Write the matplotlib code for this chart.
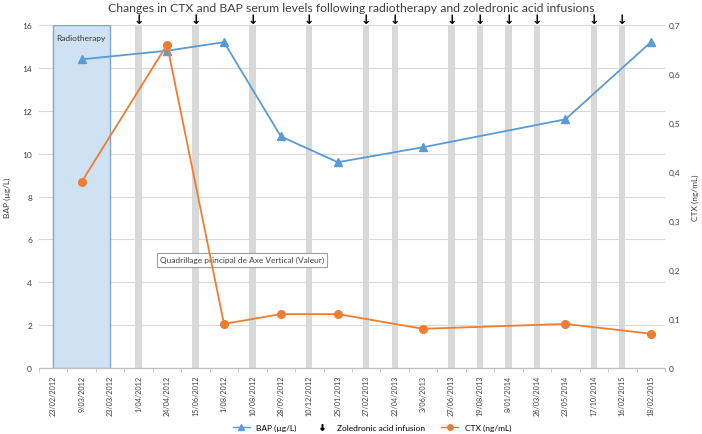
import matplotlib.pyplot as plt
from matplotlib.patches import Rectangle
from matplotlib.lines import Line2D

plt.rcParams['font.family'] = ['Lato', 'DejaVu Sans']

dates = ["23/02/2012", "9/03/2012", "23/03/2012", "1/04/2012", "24/04/2012",
         "15/06/2012", "1/08/2012", "10/08/2012", "28/09/2012", "10/12/2012",
         "25/01/2013", "27/02/2013", "22/04/2013", "3/06/2013", "27/06/2013",
         "19/08/2013", "8/01/2014", "26/03/2014", "23/05/2014", "17/10/2014",
         "16/02/2015", "18/02/2015"]

# measurements (category index -> value)
bap_idx = [1, 4, 6, 8, 10, 13, 18, 21]
bap_val = [14.4, 14.8, 15.2, 10.8, 9.6, 10.3, 11.6, 15.2]

ctx_idx = [1, 4, 6, 8, 10, 13, 18, 21]
ctx_val = [0.38, 0.66, 0.09, 0.11, 0.11, 0.08, 0.09, 0.07]

infusion_idx = [3, 5, 7, 9, 11, 12, 14, 15, 16, 17, 19, 20]
infusion_top = 16

radio_start, radio_end = 0, 2

blue = "#5b9bd5"
orange = "#ed7d31"

fig = plt.figure(figsize=(7.02, 4.35), dpi=100)
ax = fig.add_axes([0.0556, 0.1517, 0.8917, 0.7885])
ax2 = ax.twinx()

ax.set_xlim(-0.5, len(dates) - 0.5)
ax.set_ylim(0, 16)
ax2.set_ylim(0, 0.7)

ax.set_yticks(range(0, 17, 2))
ax.grid(axis="y", color="#d9d9d9", lw=0.8)
ax.set_axisbelow(True)

# radiotherapy period
ax.add_patch(Rectangle((radio_start, 0), radio_end - radio_start, 16,
                       facecolor="#cfe2f3", edgecolor="#7ea7d8", lw=1, zorder=1.5))
ax.text(radio_start + 0.1, 15.6, "Radiotherapy", fontsize=6, va="top", ha="left",
        color="#333333", zorder=3)

# zoledronic acid infusions
ax.bar(infusion_idx, [infusion_top] * len(infusion_idx), width=0.22,
       color="#d9d9d9", zorder=1.2)
for i in infusion_idx:
    ax.annotate("↓", xy=(i, infusion_top), xytext=(0, -1), textcoords="offset points",
                ha="center", va="bottom", fontsize=9, fontweight="bold",
                annotation_clip=False, family="DejaVu Sans")

ax.plot(bap_idx, bap_val, color=blue, marker="^", ms=6, lw=1.3, zorder=4)
ax2.plot(ctx_idx, ctx_val, color=orange, marker="o", ms=5.5, lw=1.3, zorder=4)

ax.set_xticks(range(len(dates)))
ax.set_xticklabels(dates, rotation=90, fontsize=5.2, color="#404040")
ax.set_xticks([i + 0.5 for i in range(-1, len(dates))], minor=True)
ax.tick_params(axis="x", which="major", length=0, pad=5)
ax.tick_params(axis="x", which="minor", length=3, color="#bfbfbf")
ax.tick_params(axis="y", length=0, labelsize=6, labelcolor="#404040", pad=5)

ax2.set_yticks([i / 10 for i in range(8)])
ax2.set_yticklabels(["0"] + ["0,%d" % i for i in range(1, 8)])
ax2.tick_params(axis="y", length=0, labelsize=6, labelcolor="#404040", pad=3)

for a in (ax, ax2):
    for s in ("top", "left", "right"):
        a.spines[s].set_visible(False)
    a.spines["bottom"].set_color("#bfbfbf")

ax.set_ylabel("BAP (µg/L)", fontsize=6, color="#404040", labelpad=8)
ax2.set_ylabel("CTX (ng/mL)", fontsize=6, color="#404040", rotation=90, labelpad=8)

fig.suptitle("Changes in CTX and BAP serum levels following radiotherapy and zoledronic acid infusions",
             y=0.993, fontsize=8.8, color="#404040")

# tooltip
ax.text(3.75, 5.05, "Quadrillage principal de Axe Vertical (Valeur)", fontsize=6,
        color="#404040", va="center", ha="left", zorder=6,
        bbox=dict(boxstyle="square,pad=0.4", facecolor="white", edgecolor="#a0a0a0", lw=0.8))

handles = [
    Line2D([], [], color=blue, marker="^", ms=4, lw=1),
    Line2D([], [], color="black", marker="$↓$", ms=4, lw=0),
    Line2D([], [], color=orange, marker="o", ms=4, lw=1),
]
fig.legend(handles, ["BAP (µg/L)", "Zoledronic acid infusion", "CTX (ng/mL)"],
           loc="lower center", bbox_to_anchor=(0.53, -0.01), ncol=3, frameon=False,
           fontsize=6, handlelength=2, columnspacing=2)

fig.savefig("out.png", dpi=100)
